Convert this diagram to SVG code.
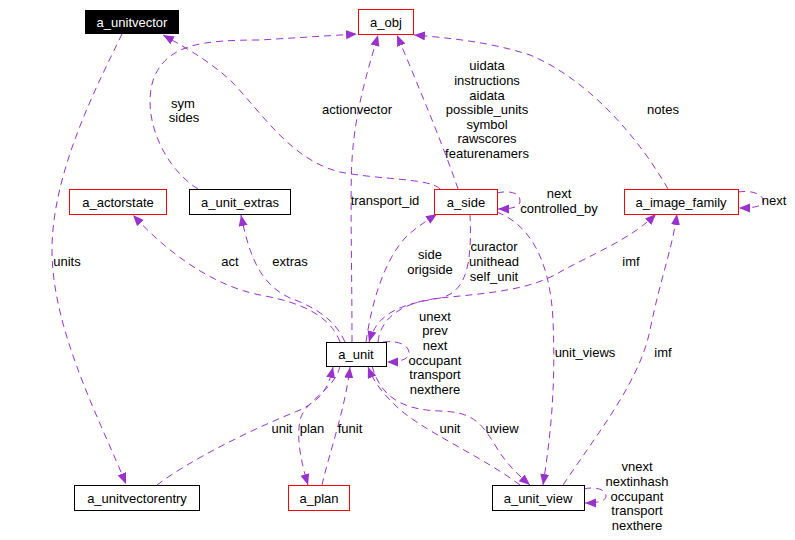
<svg xmlns="http://www.w3.org/2000/svg" width="795" height="540" viewBox="0 0 795 540">
<style>
.box{fill:#fff;stroke:#000;stroke-width:1}
.red{stroke:#ff0000}
.t{font-family:"Liberation Sans",Arial,sans-serif;font-size:13px;fill:#000;text-anchor:middle}
.e{fill:none;stroke:#9a32cd;stroke-width:1;stroke-dasharray:7,5;marker-end:url(#ah)}
</style>
<defs>
<marker id="ah" markerUnits="userSpaceOnUse" markerWidth="12" markerHeight="10" refX="11" refY="4.5" orient="auto" viewBox="0 0 12 10">
<path d="M0,0 L11,4.5 L0,9 z" fill="#9a32cd" stroke="none"/>
</marker>
</defs>
<rect width="795" height="540" fill="#fff"/>
<g id="edges">
<path class="e" d="M122,34 C100,80 52,170 52,250 C52,330 100,420 126,484"/>
<path class="e" d="M198,189 C160,165 140,110 155,75 C170,45 200,40 260,40 L357,34"/>
<path class="e" d="M440,189 C430,178 380,180 340,172 C290,160 260,110 230,80 C210,62 190,50 163,35"/>
<path class="e" d="M352,342 C352,270 350,190 352,160 C355,110 368,70 378,35"/>
<path class="e" d="M458,189 C445,150 420,90 397,35"/>
<path class="e" d="M668,189 C640,140 590,80 530,55 C490,42 450,38 414,35"/>
<path class="e" d="M497,193 C510,190 520,193 520,201 C520,207 512,209 498,209"/>
<path class="e" d="M738,192 C752,190 763,194 763,201 C763,206 755,208 739,208"/>
<path class="e" d="M340,342 C330,315 300,302 260,295 C210,285 165,250 133,215"/>
<path class="e" d="M345,342 C335,318 310,305 290,298 C262,285 250,260 241,215"/>
<path class="e" d="M366,342 C372,300 385,260 405,238 C415,228 425,222 437,214"/>
<path class="e" d="M470,214 C472,260 468,292 440,298 C405,304 378,310 369,342"/>
<path class="e" d="M378,342 C380,320 400,302 440,298 C490,293 530,290 560,272 C590,255 630,240 656,214"/>
<path class="e" d="M497,212 C530,225 550,260 553,320 C556,390 550,440 543,485"/>
<path class="e" d="M563,485 C600,430 640,380 650,330 C660,280 672,250 677,214"/>
<path class="e" d="M383,342 C400,340 409,346 409,353 C409,359 400,362 387,362"/>
<path class="e" d="M157,485 C190,460 250,430 300,410 C320,400 328,390 333,367"/>
<path class="e" d="M340,366 C335,390 305,400 300,420 C296,440 302,465 308,485"/>
<path class="e" d="M322,485 C330,450 345,410 350,367"/>
<path class="e" d="M520,485 C480,455 420,430 395,405 C385,395 375,385 368,367"/>
<path class="e" d="M372,366 C380,395 400,410 440,411 C470,412 480,420 495,445 C505,462 515,472 530,485"/>
<path class="e" d="M584,489 C596,486 606,490 606,496 C606,501 598,503 585,503"/>
</g>
<g id="edge-labels">
<text class="t" x="183" y="108">sym</text>
<text class="t" x="184" y="122">sides</text>
<text class="t" x="357" y="114">actionvector</text>
<text class="t" x="487" y="70">uidata</text>
<text class="t" x="487" y="85">instructions</text>
<text class="t" x="487" y="100">aidata</text>
<text class="t" x="487" y="114">possible_units</text>
<text class="t" x="487" y="129">symbol</text>
<text class="t" x="487" y="143">rawscores</text>
<text class="t" x="487" y="158">featurenamers</text>
<text class="t" x="663" y="114">notes</text>
<text class="t" x="559" y="198">next</text>
<text class="t" x="559" y="213">controlled_by</text>
<text class="t" x="774" y="205">next</text>
<text class="t" x="67" y="266">units</text>
<text class="t" x="230" y="266">act</text>
<text class="t" x="290" y="266">extras</text>
<text class="t" x="385" y="205">transport_id</text>
<text class="t" x="430" y="259">side</text>
<text class="t" x="430" y="274">origside</text>
<text class="t" x="494" y="251">curactor</text>
<text class="t" x="494" y="266">unithead</text>
<text class="t" x="494" y="281">self_unit</text>
<text class="t" x="631" y="266">imf</text>
<text class="t" x="585" y="357">unit_views</text>
<text class="t" x="663" y="357">imf</text>
<text class="t" x="435" y="321">unext</text>
<text class="t" x="435" y="335">prev</text>
<text class="t" x="435" y="350">next</text>
<text class="t" x="435" y="365">occupant</text>
<text class="t" x="435" y="379">transport</text>
<text class="t" x="435" y="394">nexthere</text>
<text class="t" x="282" y="433">unit</text>
<text class="t" x="312" y="433">plan</text>
<text class="t" x="350" y="433">funit</text>
<text class="t" x="450" y="433">unit</text>
<text class="t" x="502" y="433">uview</text>
<text class="t" x="637" y="471">vnext</text>
<text class="t" x="637" y="486">nextinhash</text>
<text class="t" x="637" y="501">occupant</text>
<text class="t" x="637" y="515">transport</text>
<text class="t" x="637" y="530">nexthere</text>
</g>
<g id="a_unitvector"><rect x="85.5" y="10.5" width="93" height="23" fill="#000" stroke="#000"/><text class="t" x="132" y="27" style="fill:#fff">a_unitvector</text></g>
<g id="a_obj"><rect class="box red" x="358.5" y="9.5" width="55" height="25"/><text class="t" x="386" y="27">a_obj</text></g>
<g id="a_actorstate"><rect class="box red" x="69.5" y="189.5" width="97" height="25"/><text class="t" x="118" y="207">a_actorstate</text></g>
<g id="a_unit_extras"><rect class="box" x="189.5" y="189.5" width="101" height="25"/><text class="t" x="240" y="207">a_unit_extras</text></g>
<g id="a_side"><rect class="box red" x="434.5" y="189.5" width="63" height="25"/><text class="t" x="466" y="207">a_side</text></g>
<g id="a_image_family"><rect class="box red" x="624.5" y="189.5" width="114" height="25"/><text class="t" x="681" y="207">a_image_family</text></g>
<g id="a_unit"><rect class="box" x="326.5" y="342.5" width="60" height="24"/><text class="t" x="356" y="359">a_unit</text></g>
<g id="a_unitvectorentry"><rect class="box" x="74.5" y="485.5" width="125" height="25"/><text class="t" x="137" y="503">a_unitvectorentry</text></g>
<g id="a_plan"><rect class="box red" x="288.5" y="485.5" width="61" height="25"/><text class="t" x="319" y="503">a_plan</text></g>
<g id="a_unit_view"><rect class="box" x="492.5" y="485.5" width="92" height="25"/><text class="t" x="538" y="503">a_unit_view</text></g>
</svg>
